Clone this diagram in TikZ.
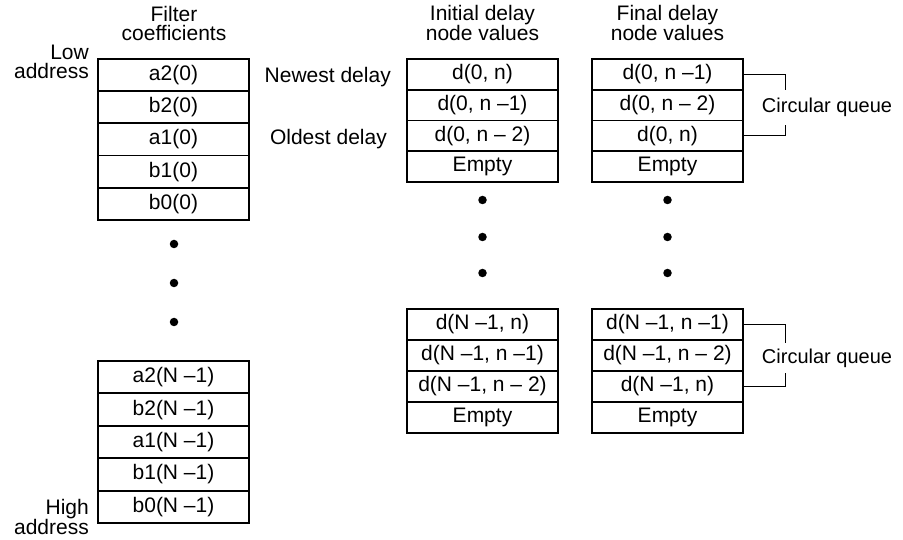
\documentclass[tikz,border=0pt]{standalone}
\usepackage{fontspec}
\setmainfont{Liberation Sans}
\begin{document}
\begin{tikzpicture}[x=1pt,y=-1pt,
  every node/.style={font=\fontsize{21}{19}\selectfont, inner sep=0pt},
  cellA/.style={draw, line width=1.8pt, minimum width=151pt, minimum height=32.2pt},
  cellB/.style={draw, line width=1.8pt, minimum width=151pt, minimum height=30.8pt},
  dotm/.style={fill=black, circle, minimum size=8.5pt, inner sep=0pt},
  brk/.style={line width=0.9pt},
  cqlbl/.style={font=\fontsize{20}{19}\selectfont},
  hdr/.style={align=center}]
\useasboundingbox (0,0) rectangle (903,540);
% headers
\node[hdr] (h1) at (174,23) {Filter\\coefficients};
\node[hdr] (h2) at (482.5,23) {Initial delay\\node values};
\node[hdr] (h3) at (667.5,23) {Final delay\\node values};
\node[align=right, anchor=east] (low) at (89,62) {Low\\address};
\node[align=right, anchor=east] (high) at (89,517) {High\\address};
\node[anchor=east] (newest) at (391,77) {Newest delay};
\node[anchor=east] (oldest) at (387,139) {Oldest delay};
% left top block
\node[cellA] (a20) at (173.5,75.1) {a2(0)};
\node[cellA] (b20) at (173.5,107.3) {b2(0)};
\node[cellA] (a10) at (173.5,139.5) {a1(0)};
\node[cellA] (b10) at (173.5,171.7) {b1(0)};
\node[cellA] (b00) at (173.5,203.9) {b0(0)};
% left bottom block
\node[cellA] (a2N) at (173.5,377.2) {a2(N –1)};
\node[cellA] (b2N) at (173.5,409.6) {b2(N –1)};
\node[cellA] (a1N) at (173.5,442) {a1(N –1)};
\node[cellA] (b1N) at (173.5,474.4) {b1(N –1)};
\node[cellA] (b0N) at (173.5,506.8) {b0(N –1)};
% left dots
\node[dotm] (ld1) at (174,244) {};
\node[dotm] (ld2) at (174,283) {};
\node[dotm] (ld3) at (174,322) {};
% middle top
\node[cellB] (m1) at (482.5,74.4) {d(0, n)};
\node[cellB] (m2) at (482.5,105.1) {d(0, n –1)};
\node[cellB] (m3) at (482.5,135.9) {d(0, n – 2)};
\node[cellB] (m4) at (482.5,166.6) {Empty};
% middle bottom
\node[cellB] (mb1) at (482.5,324.5) {d(N –1, n)};
\node[cellB] (mb2) at (482.5,355.5) {d(N –1, n –1)};
\node[cellB] (mb3) at (482.5,386.5) {d(N –1, n – 2)};
\node[cellB] (mb4) at (482.5,417.5) {Empty};
% right top
\node[cellB] (r1) at (667.5,74.4) {d(0, n –1)};
\node[cellB] (r2) at (667.5,105.1) {d(0, n – 2)};
\node[cellB] (r3) at (667.5,135.9) {d(0, n)};
\node[cellB] (r4) at (667.5,166.6) {Empty};
% right bottom
\node[cellB] (rb1) at (667.5,324.5) {d(N –1, n –1)};
\node[cellB] (rb2) at (667.5,355.5) {d(N –1, n – 2)};
\node[cellB] (rb3) at (667.5,386.5) {d(N –1, n)};
\node[cellB] (rb4) at (667.5,417.5) {Empty};
% middle/right dots
\node[dotm] (md1) at (482.5,200) {};
\node[dotm] (md2) at (482.5,237) {};
\node[dotm] (md3) at (482.5,273) {};
\node[dotm] (rd1) at (667.5,200) {};
\node[dotm] (rd2) at (667.5,237) {};
\node[dotm] (rd3) at (667.5,273) {};
% circular queue brackets
\coordinate (qa) at (785,90);
\coordinate (qb) at (785,125);
\node[cqlbl] (cq1) at (827,107) {Circular queue};
\draw[brk] (r1.east) -| (qa);
\draw[brk] (r3.east) -| (qb);
\coordinate (qc) at (785,343);
\coordinate (qd) at (785,373);
\node[cqlbl] (cq2) at (827,358) {Circular queue};
\draw[brk] (rb1.east) -| (qc);
\draw[brk] (rb3.east) -| (qd);
\end{tikzpicture}
\end{document}
